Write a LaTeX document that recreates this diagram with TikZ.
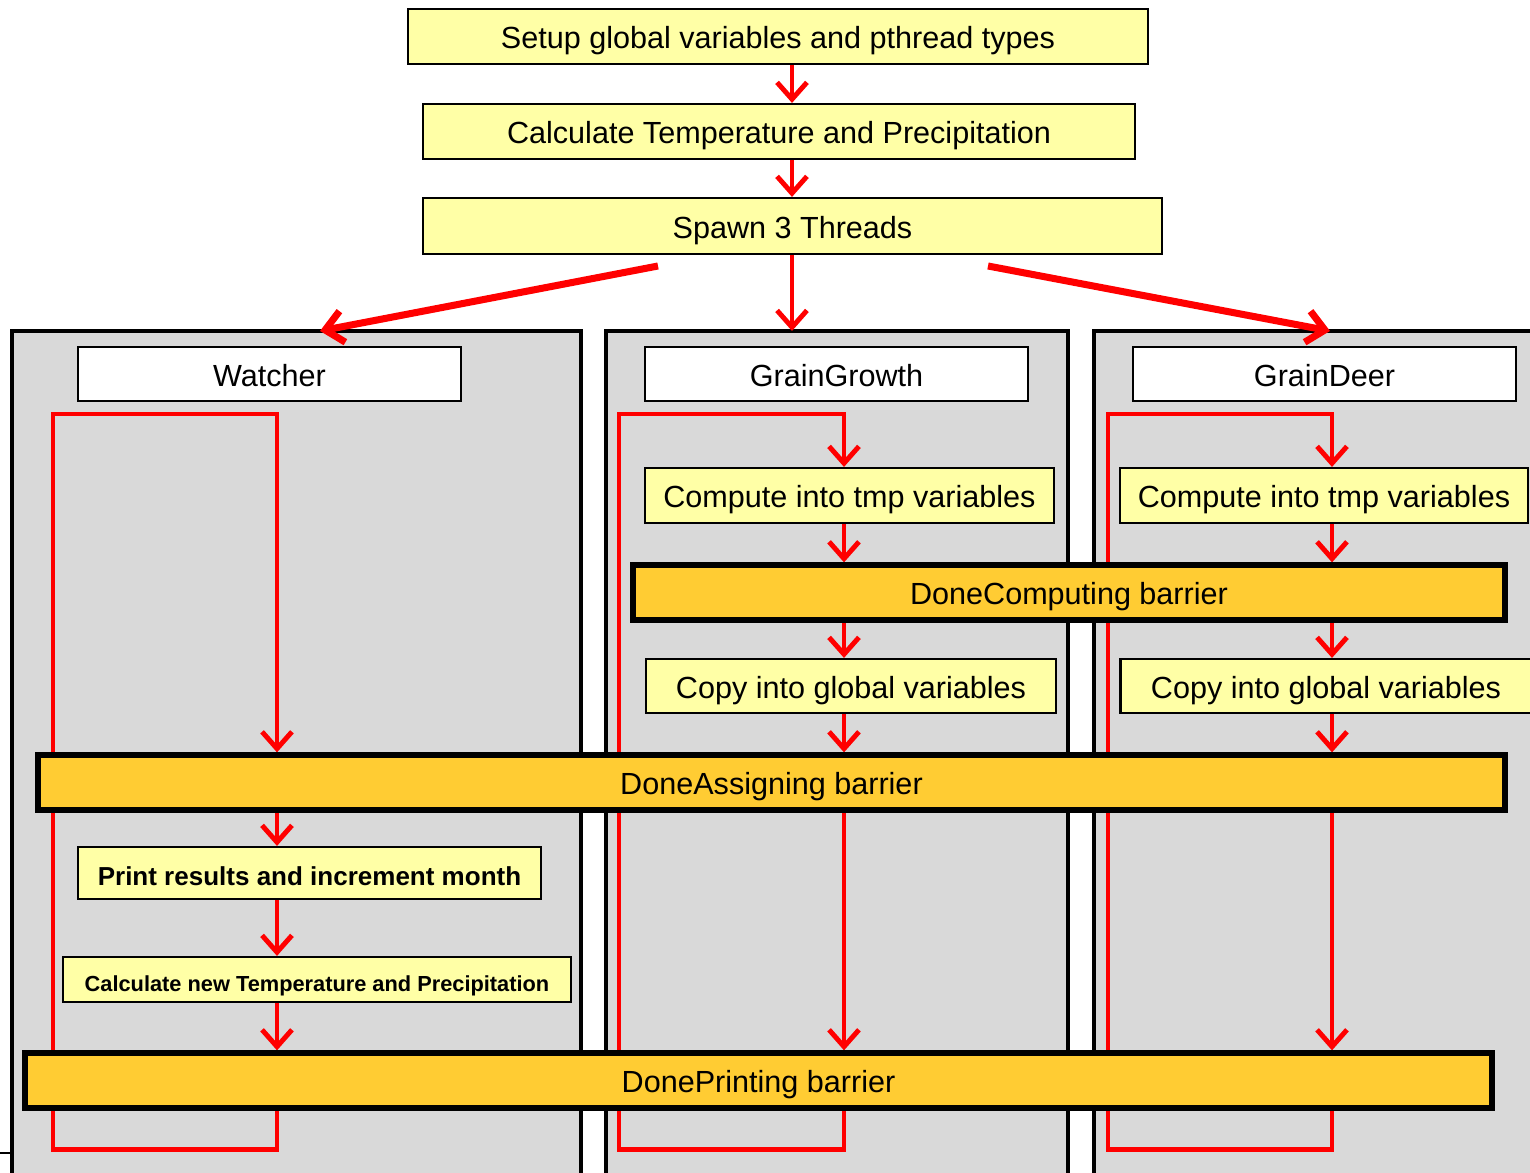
\documentclass[tikz,border=0pt]{standalone}
\usepackage{fontspec}
\setmainfont{Liberation Sans}
\usetikzlibrary{arrows.meta}
\pgfdeclarelayer{bg}
\pgfsetlayers{bg,main}
\definecolor{procyellow}{HTML}{FFFFA6}
\definecolor{barrierorange}{HTML}{FFCC33}
\definecolor{panelgray}{HTML}{D9D9D9}

\begin{document}
\begin{tikzpicture}[
    every node/.style={font=\fontsize{8.7}{10}\selectfont, inner sep=0pt,
                       text height=0.9em, text depth=0.2em},
    proc/.style={draw, line width=0.6pt, fill=procyellow},
    thread/.style={draw, line width=0.6pt, fill=white},
    barrier/.style={draw, line width=1.5pt, fill=barrierorange},
    panel/.style={draw, line width=1.2pt, fill=panelgray},
    flow/.style={red, line width=1.4pt, -{Straight Barb[length=4.8pt, width=8.5pt]}},
    cycleline/.style={red, line width=1.4pt, -{Straight Barb[length=4.8pt, width=8.5pt]}},
    spawnline/.style={red, line width=2pt, -{Straight Barb[length=5pt, width=9pt]}},
]

\useasboundingbox (0,0) rectangle (15.30,-11.73);
\clip (0,0) rectangle (15.30,-11.73);

% --- Thread panels (grey, open at the bottom) -----------------------
\begin{pgfonlayer}{bg}
\clip (0,0) rectangle (15.30,-11.73);
\draw[panel] (0.12,-3.31) rectangle (5.81,-11.90);    % Watcher
\draw[panel] (6.06,-3.31) rectangle (10.68,-11.90);   % GrainGrowth
\draw[panel] (10.94,-3.31) rectangle (15.60,-11.90);  % GrainDeer
\draw[line width=0.6pt] (0,-11.53) -- (0.12,-11.53);
\end{pgfonlayer}

% column lines for the arrows
\coordinate (mcol) at (7.92,0);
\coordinate (wcol) at (2.77,0);
\coordinate (gcol) at (8.44,0);
\coordinate (dcol) at (13.32,0);

% --- Main program -----------------------------------------------------
\node[proc, minimum width=7.40cm, minimum height=0.55cm] (setup) at (7.78,-0.365)
    {Setup global variables and pthread types};
\node[proc, minimum width=7.12cm, minimum height=0.55cm] (calc) at (7.79,-1.315)
    {Calculate Temperature and Precipitation};
\node[proc, minimum width=7.39cm, minimum height=0.56cm] (spawn) at (7.925,-2.26)
    {Spawn 3 Threads};

% --- Thread titles ------------------------------------------------------
\node[thread, minimum width=3.83cm, minimum height=0.54cm] (wname) at (2.695,-3.74) {Watcher};
\node[thread, minimum width=3.83cm, minimum height=0.54cm] (gname) at (8.365,-3.74) {GrainGrowth};
\node[thread, minimum width=3.83cm, minimum height=0.54cm] (dname) at (13.245,-3.74) {GrainDeer};

% --- Steps inside the threads ------------------------------------------
\node[proc, minimum width=4.09cm, minimum height=0.55cm] (gcomp) at (8.495,-4.955)
    {Compute into tmp variables};
\node[proc, minimum width=4.08cm, minimum height=0.55cm] (dcomp) at (13.24,-4.955)
    {Compute into tmp variables};
\node[proc, minimum width=4.10cm, minimum height=0.54cm] (gcopy) at (8.51,-6.86)
    {Copy into global variables};
\node[proc, minimum width=4.11cm, minimum height=0.54cm] (dcopy) at (13.26,-6.86)
    {Copy into global variables};
\node[proc, minimum width=4.63cm, minimum height=0.52cm,
      font=\fontsize{7.4}{9}\selectfont\bfseries] (print) at (3.095,-8.73)
    {Print results and increment month};
\node[proc, minimum width=5.08cm, minimum height=0.45cm,
      font=\fontsize{6.2}{8}\selectfont\bfseries] (newcalc) at (3.17,-9.795)
    {Calculate new Temperature and Precipitation};

% --- Barriers -------------------------------------------------------------
\node[barrier, minimum width=8.72cm, minimum height=0.55cm] (computing) at (10.69,-5.925)
    {DoneComputing barrier};
\node[barrier, minimum width=14.67cm, minimum height=0.55cm] (assigning) at (7.715,-7.825)
    {DoneAssigning barrier};
\node[barrier, minimum width=14.67cm, minimum height=0.55cm] (printing) at (7.585,-10.805)
    {DonePrinting barrier};

% --- Red flow (behind the boxes) -------------------------------------------
\coordinate (wtail) at (6.58,-2.66);
\coordinate (dtail) at (9.88,-2.66);
\coordinate (wtip) at (3.20,-3.31);
\coordinate (gtip) at (7.92,-3.31);
\coordinate (dtip) at (13.30,-3.31);

\begin{pgfonlayer}{bg}
\clip (0,0) rectangle (15.30,-11.73);
\draw[flow] (setup.south -| mcol) -- (calc.north -| mcol);
\draw[flow] (calc.south -| mcol) -- (spawn.north -| mcol);
\draw[flow] (spawn.south -| mcol) -- (gtip);
\draw[spawnline] (wtail) -- (wtip);
\draw[spawnline] (dtail) -- (dtip);

% loops back from DonePrinting
\draw[cycleline] (printing.south -| wcol) -- ++(0,-0.39) -| (0.53,-4.14) -| (assigning.north -| wcol);
\draw[cycleline] (printing.south -| gcol) -- ++(0,-0.39) -| (6.19,-4.14) -| (gcomp.north -| gcol);
\draw[cycleline] (printing.south -| dcol) -- ++(0,-0.39) -| (11.08,-4.14) -| (dcomp.north -| dcol);

% Watcher
\draw[flow] (assigning.south -| wcol) -- (print.north -| wcol);
\draw[flow] (print.south -| wcol) -- (newcalc.north -| wcol);
\draw[flow] (newcalc.south -| wcol) -- (printing.north -| wcol);

% GrainGrowth and GrainDeer
\foreach \c/\p in {gcol/g, dcol/d} {
    \draw[flow] (\p comp.south -| \c) -- (computing.north -| \c);
    \draw[flow] (computing.south -| \c) -- (\p copy.north -| \c);
    \draw[flow] (\p copy.south -| \c) -- (assigning.north -| \c);
    \draw[flow] (assigning.south -| \c) -- (printing.north -| \c);
}
\end{pgfonlayer}

\end{tikzpicture}
\end{document}
